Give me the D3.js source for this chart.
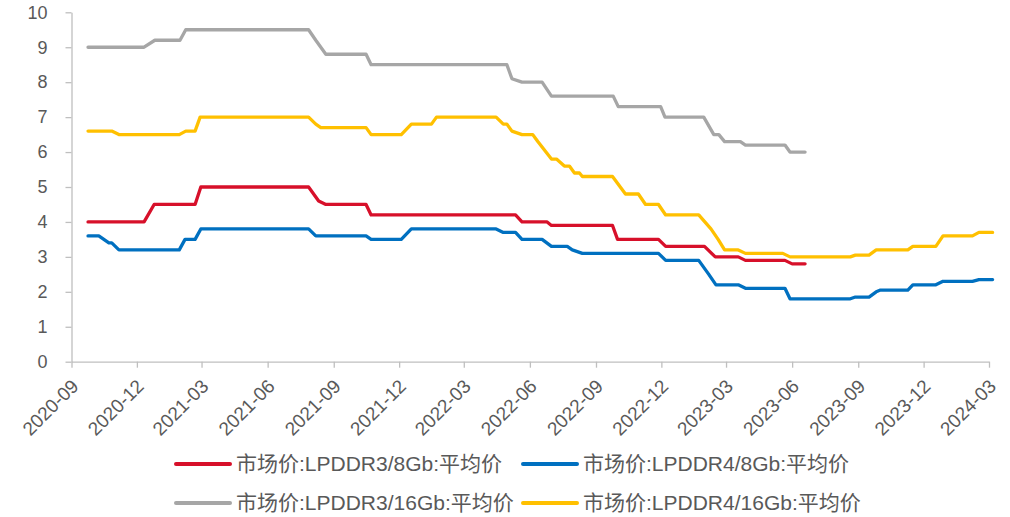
<!DOCTYPE html>
<html>
<head>
<meta charset="utf-8">
<script src="https://d3js.org/d3.v7.min.js"></script>
<style>
    body { margin: 0; background: #fff; }
    text { font-family: "Liberation Sans", Arial, "Noto Sans CJK SC", sans-serif; }
</style>
</head>
<body>
<svg id="chart"></svg>
<script>
// LPDDR3/8Gb average market price
let lpddr3_8 = [
    ["2020-09-24", 4.0], ["2020-12-11", 4.0], ["2020-12-25", 4.5], ["2021-02-20", 4.5],
    ["2021-02-28", 5.0], ["2021-07-28", 5.0], ["2021-08-11", 4.6], ["2021-08-21", 4.5],
    ["2021-10-16", 4.5], ["2021-10-23", 4.2], ["2022-05-12", 4.2], ["2022-05-21", 4.0],
    ["2022-06-25", 4.0], ["2022-07-01", 3.9], ["2022-09-24", 3.9], ["2022-10-01", 3.5],
    ["2022-11-27", 3.5], ["2022-12-07", 3.3], ["2023-01-30", 3.3], ["2023-02-14", 3.0],
    ["2023-03-18", 3.0], ["2023-03-28", 2.9], ["2023-05-22", 2.9], ["2023-06-01", 2.8],
    ["2023-06-19", 2.8]
];

// LPDDR4/8Gb
let lpddr4_8 = [
    ["2020-09-24", 3.6], ["2020-10-09", 3.6], ["2020-10-23", 3.4], ["2020-10-27", 3.4],
    ["2020-11-06", 3.2], ["2021-01-29", 3.2], ["2021-02-06", 3.5], ["2021-02-20", 3.5],
    ["2021-02-28", 3.8], ["2021-07-28", 3.8], ["2021-08-07", 3.6], ["2021-10-16", 3.6],
    ["2021-10-23", 3.5], ["2021-12-04", 3.5], ["2021-12-18", 3.8], ["2022-04-15", 3.8],
    ["2022-04-25", 3.7], ["2022-05-12", 3.7], ["2022-05-21", 3.5], ["2022-06-18", 3.5],
    ["2022-07-01", 3.3], ["2022-07-23", 3.3], ["2022-07-30", 3.2], ["2022-08-13", 3.1],
    ["2022-11-27", 3.1], ["2022-12-07", 2.9], ["2023-01-22", 2.9], ["2023-02-05", 2.5],
    ["2023-02-15", 2.2], ["2023-03-18", 2.2], ["2023-03-28", 2.1], ["2023-05-22", 2.1],
    ["2023-05-29", 1.8], ["2023-08-21", 1.8], ["2023-08-28", 1.85], ["2023-09-16", 1.85],
    ["2023-09-26", 2.0], ["2023-10-02", 2.05], ["2023-11-09", 2.05], ["2023-11-16", 2.2],
    ["2023-12-18", 2.2], ["2023-12-28", 2.3], ["2024-02-07", 2.3], ["2024-02-16", 2.35],
    ["2024-03-06", 2.35]
];

// LPDDR3/16Gb
let lpddr3_16 = [
    ["2020-09-24", 9.0], ["2020-12-11", 9.0], ["2020-12-26", 9.2], ["2021-01-30", 9.2],
    ["2021-02-07", 9.5], ["2021-07-28", 9.5], ["2021-08-07", 9.2], ["2021-08-21", 8.8],
    ["2021-10-16", 8.8], ["2021-10-23", 8.5], ["2022-04-30", 8.5], ["2022-05-07", 8.1],
    ["2022-05-21", 8.0], ["2022-06-18", 8.0], ["2022-07-01", 7.6], ["2022-09-25", 7.6],
    ["2022-10-02", 7.3], ["2022-11-30", 7.3], ["2022-12-06", 7.0], ["2023-01-29", 7.0],
    ["2023-02-12", 6.5], ["2023-02-19", 6.5], ["2023-02-27", 6.3], ["2023-03-21", 6.3],
    ["2023-03-28", 6.2], ["2023-05-22", 6.2], ["2023-05-29", 6.0], ["2023-06-19", 6.0]
];

// LPDDR4/16Gb
let lpddr4_16 = [
    ["2020-09-24", 6.6], ["2020-10-27", 6.6], ["2020-11-06", 6.5], ["2021-01-29", 6.5],
    ["2021-02-07", 6.6], ["2021-02-20", 6.6], ["2021-02-27", 7.0], ["2021-07-28", 7.0],
    ["2021-08-07", 6.8], ["2021-08-14", 6.7], ["2021-10-16", 6.7], ["2021-10-23", 6.5],
    ["2021-12-04", 6.5], ["2021-12-18", 6.8], ["2022-01-15", 6.8], ["2022-01-22", 7.0],
    ["2022-04-15", 7.0], ["2022-04-25", 6.8], ["2022-04-30", 6.8], ["2022-05-07", 6.6],
    ["2022-05-21", 6.5], ["2022-06-05", 6.5], ["2022-06-12", 6.3], ["2022-07-01", 5.8],
    ["2022-07-08", 5.8], ["2022-07-19", 5.6], ["2022-07-26", 5.6], ["2022-08-02", 5.4],
    ["2022-08-09", 5.4], ["2022-08-13", 5.3], ["2022-09-24", 5.3], ["2022-10-12", 4.8],
    ["2022-10-30", 4.8], ["2022-11-09", 4.5], ["2022-11-27", 4.5], ["2022-12-07", 4.2],
    ["2023-01-22", 4.2], ["2023-02-08", 3.8], ["2023-02-18", 3.5], ["2023-02-27", 3.2],
    ["2023-03-18", 3.2], ["2023-03-28", 3.1], ["2023-05-19", 3.1], ["2023-05-29", 3.0],
    ["2023-08-21", 3.0], ["2023-08-28", 3.05], ["2023-09-16", 3.05], ["2023-09-26", 3.2],
    ["2023-11-09", 3.2], ["2023-11-16", 3.3], ["2023-12-18", 3.3], ["2023-12-28", 3.6],
    ["2024-02-07", 3.6], ["2024-02-16", 3.7], ["2024-03-06", 3.7]
];

let seriesNames = ["市场价:LPDDR3/8Gb:平均价", "市场价:LPDDR4/8Gb:平均价",
                   "市场价:LPDDR3/16Gb:平均价", "市场价:LPDDR4/16Gb:平均价"];
let seriesColors = ["#D7102A", "#0070C0", "#A6A6A6", "#FFC000"];
let yTicks = [0, 1, 2, 3, 4, 5, 6, 7, 8, 9, 10];
let xTicks = ["2020-09-01", "2020-12-01", "2021-03-01", "2021-06-01", "2021-09-01",
              "2021-12-01", "2022-03-01", "2022-06-01", "2022-09-01", "2022-12-01",
              "2023-03-01", "2023-06-01", "2023-09-01", "2023-12-01", "2024-03-01"];

let parse = d3.timeParse("%Y-%m-%d");
let allSeries = [lpddr3_8, lpddr4_8, lpddr3_16, lpddr4_16].map(function (s) {
    return s.map(function (d) { return { date: parse(d[0]), value: d[1] }; });
});
let tickDates = xTicks.map(parse);

let svg = d3.select("#chart")
    .attr("width", 1010)
    .attr("height", 517);

let x = d3.scaleTime()
    .domain(d3.extent(tickDates))
    .range([71.5, 989]);

let y = d3.scaleLinear()
    .domain([0, 10])
    .range([361.7, 12.3]);

let axisColor = "#BFBFBF",
    textColor = "#595959";

// y axis
let yAxis = svg.append("g")
    .attr("transform", "translate(" + x.range()[0] + ",0)")
    .call(d3.axisLeft(y).tickValues(yTicks).tickSize(6).tickSizeOuter(0).tickPadding(18));

// x axis, quarterly ticks
let xAxis = svg.append("g")
    .attr("transform", "translate(0," + y(0) + ")")
    .call(d3.axisBottom(x)
        .tickValues(tickDates)
        .tickFormat(d3.timeFormat("%Y-%m"))
        .tickSize(6).tickSizeOuter(0));

[xAxis, yAxis].forEach(function (a) {
    a.select(".domain").attr("stroke", axisColor).attr("stroke-width", 1.3);
    a.selectAll(".tick line").attr("stroke", axisColor).attr("stroke-width", 1.3);
    a.selectAll("text")
        .attr("fill", textColor)
        .style("font-size", "18px");
});

// rotate date labels
xAxis.selectAll(".tick text")
    .style("font-size", "19px")
    .attr("text-anchor", "end")
    .attr("dy", "0.35em")
    .attr("transform", "translate(3,21) rotate(-45)")
    .attr("y", 0)
    .attr("x", 0);

// lines
let line = d3.line()
    .x(function (d) { return x(d.date); })
    .y(function (d) { return y(d.value); });

svg.append("g")
    .selectAll("path")
    .data(allSeries)
    .enter().append("path")
    .attr("d", line)
    .attr("fill", "none")
    .attr("stroke", function (d, i) { return seriesColors[i]; })
    .attr("stroke-width", 3.3)
    .attr("stroke-linejoin", "round")
    .attr("stroke-linecap", "round");

// legend, 2 x 2
let legend = svg.append("g")
    .selectAll("g")
    .data(seriesNames)
    .enter().append("g")
    .attr("transform", function (d, i) {
        return "translate(" + (176 + (i % 2) * 347) + "," + (464 + Math.floor(i / 2) * 39) + ")";
    });

legend.append("line")
    .attr("x1", 0).attr("x2", 54)
    .attr("stroke", function (d, i) { return seriesColors[i]; })
    .attr("stroke-width", 4)
    .attr("stroke-linecap", "round");

legend.append("text")
    .attr("x", 60)
    .attr("dy", "0.35em")
    .attr("fill", textColor)
    .style("font-size", "21px")
    .text(function (d) { return d; });
</script>
</body>
</html>
